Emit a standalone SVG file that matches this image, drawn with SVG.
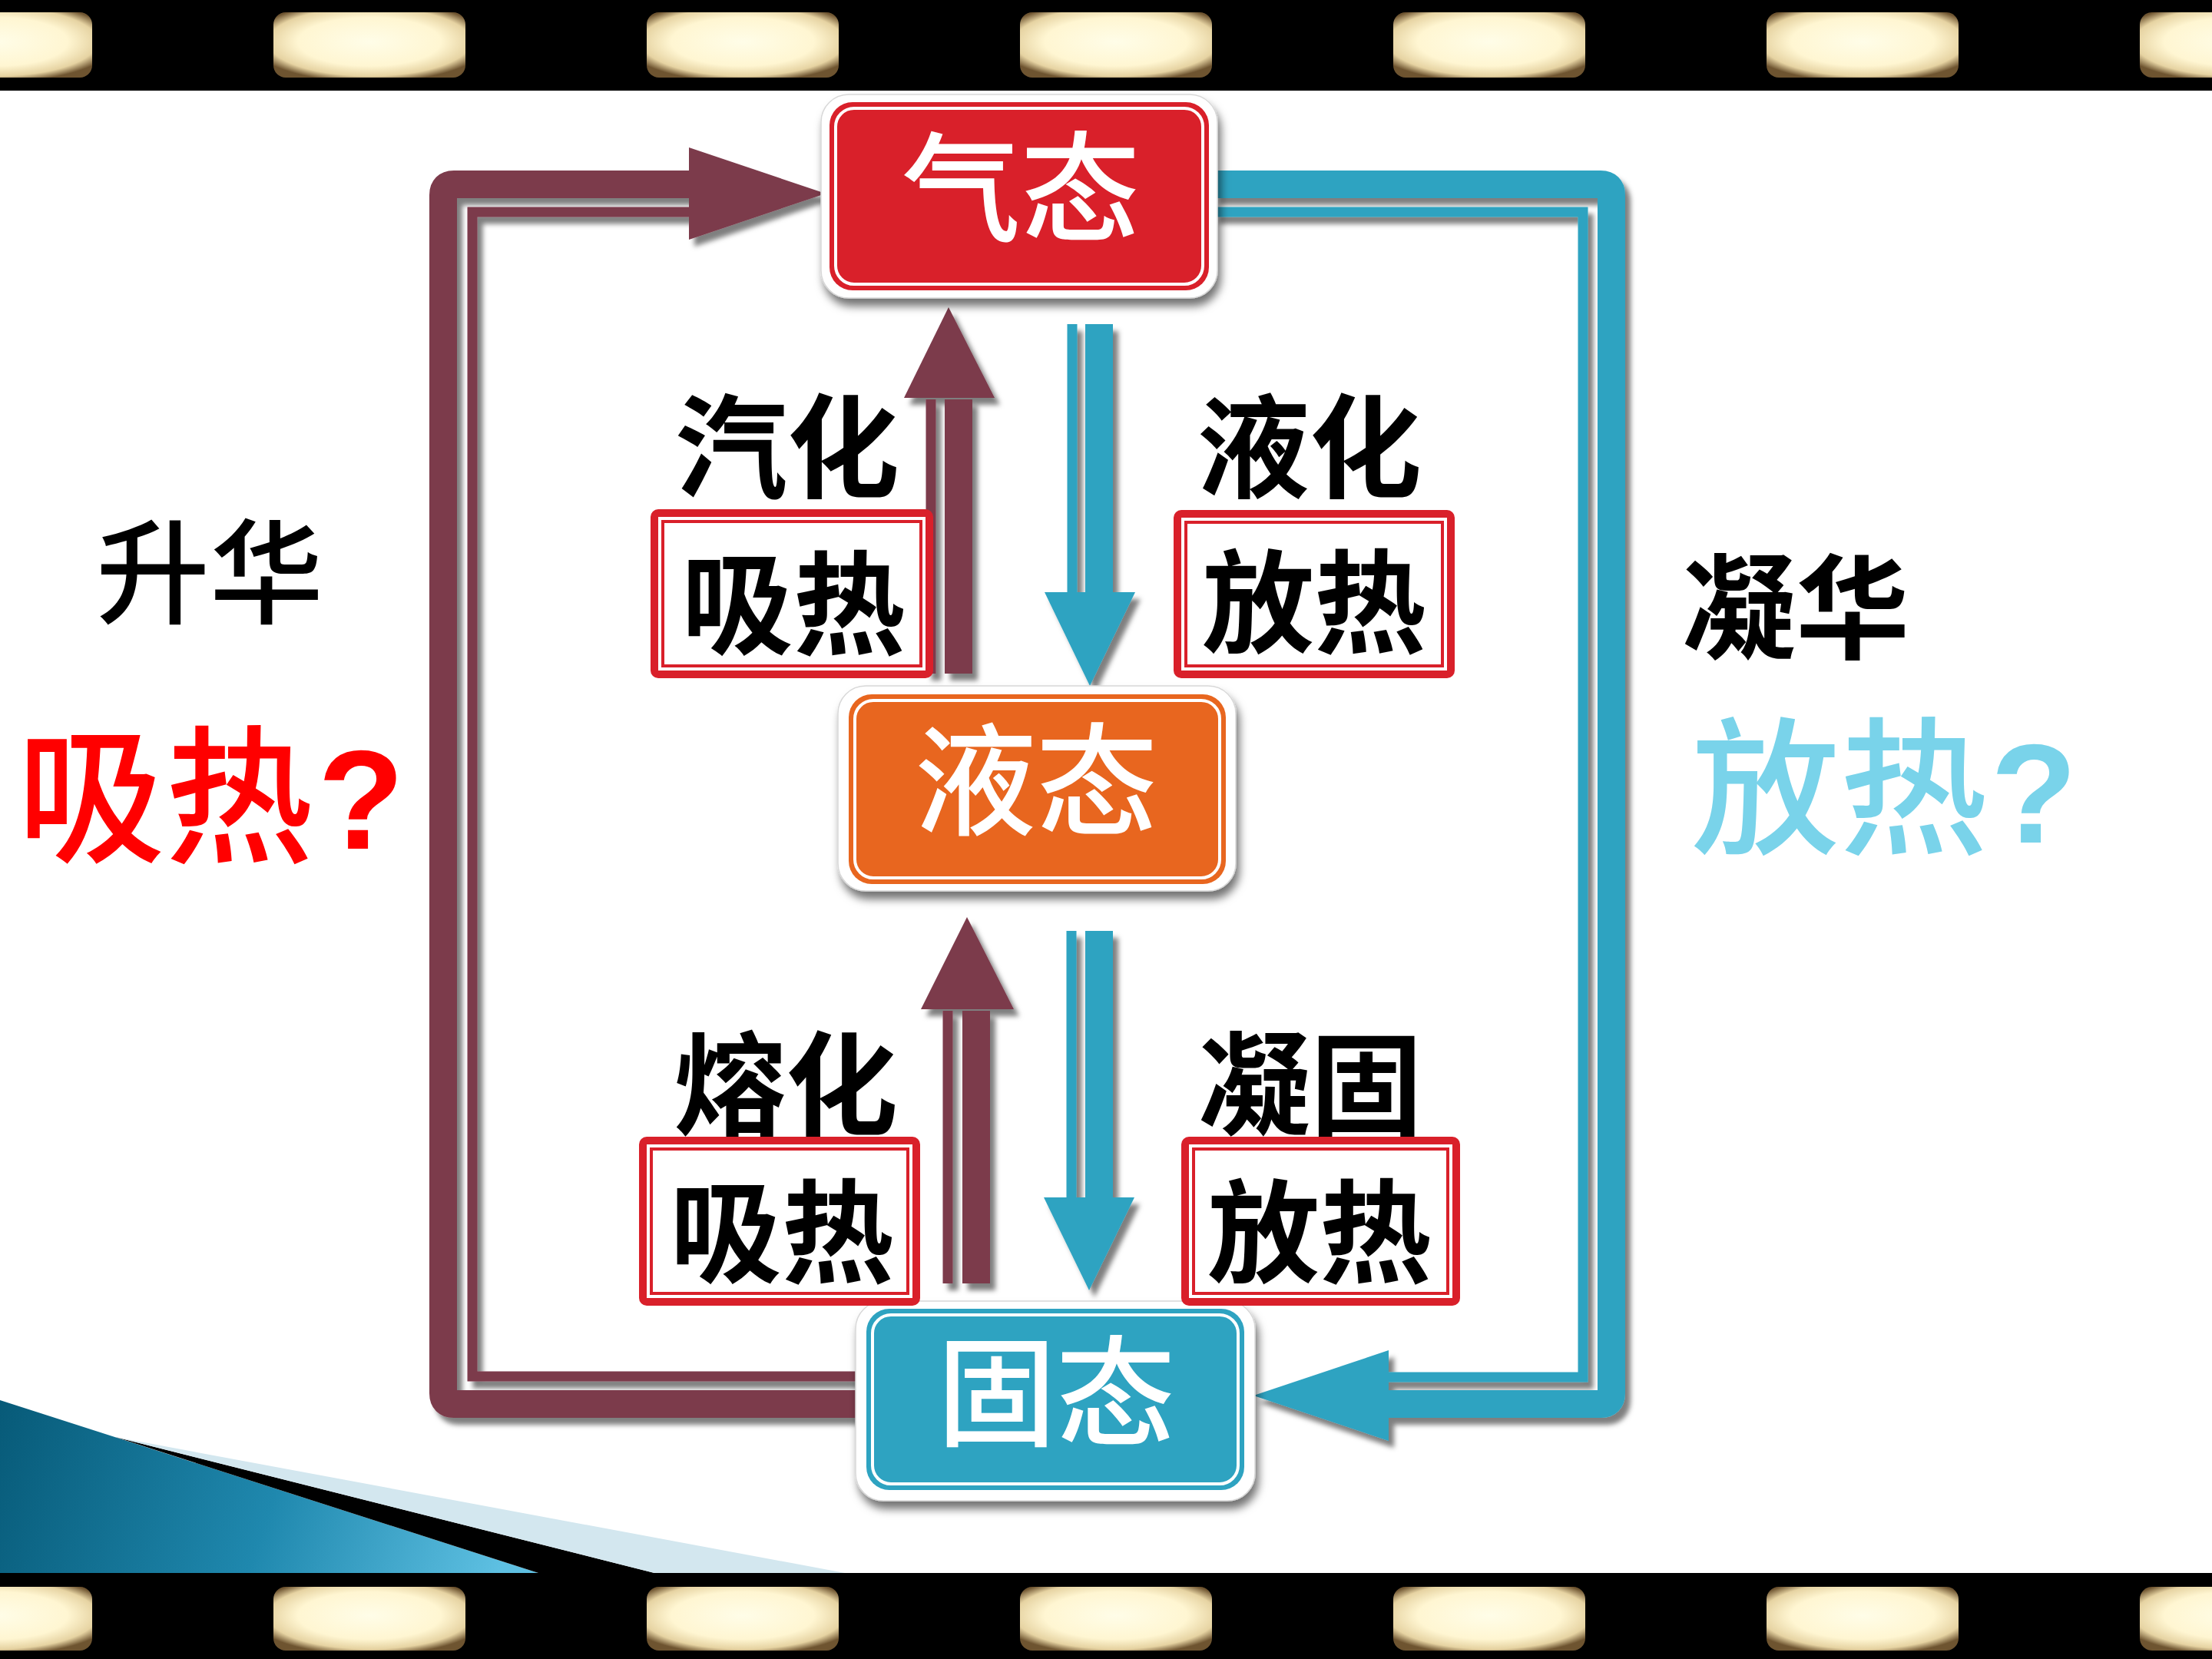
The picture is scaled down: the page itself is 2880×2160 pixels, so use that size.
<svg xmlns="http://www.w3.org/2000/svg" width="2880" height="2160" viewBox="0 0 2880 2160">
<defs>
<radialGradient id="holeG" cx="0.5" cy="0.45" r="0.62">
<stop offset="0" stop-color="#fffde8"/>
<stop offset="0.6" stop-color="#fff6d2"/>
<stop offset="0.85" stop-color="#e6d3a2"/>
<stop offset="1" stop-color="#6e5430"/>
</radialGradient>
<linearGradient id="blueG" x1="0" y1="1823" x2="650" y2="2048" gradientUnits="userSpaceOnUse">
<stop offset="0" stop-color="#075a78"/>
<stop offset="0.55" stop-color="#1f88ae"/>
<stop offset="1" stop-color="#5ec0e2"/>
</linearGradient>
<filter id="sh" filterUnits="userSpaceOnUse" x="0" y="0" width="2880" height="2160">
<feDropShadow dx="4" dy="10" stdDeviation="6" flood-color="#000" flood-opacity="0.55"/>
</filter>
<filter id="csh" filterUnits="userSpaceOnUse" x="0" y="0" width="2880" height="2160">
<feDropShadow dx="7" dy="9" stdDeviation="3" flood-color="#000" flood-opacity="0.5"/>
</filter>
<style>
.hole{fill:url(#holeG)}
.pth{fill:none;stroke:#7c3a4b;stroke-width:36;stroke-linejoin:round}
.ptn{fill:none;stroke:#7c3a4b;stroke-width:13}
.pfill{fill:#7c3a4b}
.bth{fill:none;stroke:#2ea3c1;stroke-width:36;stroke-linejoin:round}
.btn{fill:none;stroke:#2ea3c1;stroke-width:13}
.bfill{fill:#2ea3c1}
.outer{fill:#fff;stroke:#d8d8d8;stroke-width:1.5}
.inline{fill:none;stroke:#fff;stroke-width:4}
.rb{fill:#d9202a}
.rw{fill:#fff}
.rl{fill:none;stroke:#d9202a;stroke-width:4}
.t{font-family:"Noto Sans CJK SC","Noto Sans CJK JP",sans-serif;text-anchor:middle}
.node{font-size:155px;font-weight:500;fill:#fff}
.lbl{font-size:146px;font-weight:700;fill:#000}
.side{font-size:148px;fill:#000}
.big{font-size:193px;font-weight:500}
.q{font-family:"Liberation Sans",Arial,sans-serif;font-size:184px;font-weight:700;text-anchor:middle}
</style>
</defs>
<rect x="0" y="0" width="2880" height="2160" fill="#fff"/>

<g id="film-top">
<rect x="0" y="0" width="2880" height="118" fill="#000"/>
<rect class="hole" x="-130" y="16" width="250" height="85" rx="16"/>
<rect class="hole" x="356" y="16" width="250" height="85" rx="16"/>
<rect class="hole" x="842" y="16" width="250" height="85" rx="16"/>
<rect class="hole" x="1328" y="16" width="250" height="85" rx="16"/>
<rect class="hole" x="1814" y="16" width="250" height="85" rx="16"/>
<rect class="hole" x="2300" y="16" width="250" height="85" rx="16"/>
<rect class="hole" x="2786" y="16" width="250" height="85" rx="16"/>
</g>

<g id="decor-bottom-left">
<polygon points="0,1823 701,2048 0,2048" fill="url(#blueG)"/>
<polygon points="150,1871 852,2048 701,2048" fill="#000"/>
<polygon points="150,1871 1100,2048 852,2048" fill="#d3e7ef"/>
</g>

<g id="film-bottom">
<rect x="0" y="2048" width="2880" height="112" fill="#000"/>
<rect class="hole" x="-130" y="2066" width="250" height="83" rx="16"/>
<rect class="hole" x="356" y="2066" width="250" height="83" rx="16"/>
<rect class="hole" x="842" y="2066" width="250" height="83" rx="16"/>
<rect class="hole" x="1328" y="2066" width="250" height="83" rx="16"/>
<rect class="hole" x="1814" y="2066" width="250" height="83" rx="16"/>
<rect class="hole" x="2300" y="2066" width="250" height="83" rx="16"/>
<rect class="hole" x="2786" y="2066" width="250" height="83" rx="16"/>
</g>

<g id="connectors" filter="url(#csh)">
<!-- sublimation loop (left) -->
<path class="ptn" d="M1125,1792 H615 V276 H900"/>
<path class="pth" d="M1125,1828 H591 Q577,1828 577,1814 V254 Q577,240 591,240 H900"/>
<polygon class="pfill" points="897,192 1075,252 897,312"/>
<!-- deposition loop (right) -->
<path class="btn" d="M1580,276 H2061 V1793 H1805"/>
<path class="bth" d="M1580,240 H2084 Q2098,240 2098,254 V1814 Q2098,1828 2084,1828 H1805"/>
<polygon class="bfill" points="1808,1758 1632,1817 1808,1876"/>
<!-- vaporization -->
<line class="ptn" x1="1212" y1="520" x2="1212" y2="877"/>
<line class="pth" x1="1248" y1="520" x2="1248" y2="877"/>
<polygon class="pfill" points="1177,518 1235,400 1295,518"/>
<!-- liquefaction -->
<line class="btn" x1="1396" y1="422" x2="1396" y2="773"/>
<line class="bth" x1="1431" y1="422" x2="1431" y2="773"/>
<polygon class="bfill" points="1360,771 1419,893 1478,771"/>
<!-- melting -->
<line class="ptn" x1="1234" y1="1316" x2="1234" y2="1671"/>
<line class="pth" x1="1271" y1="1316" x2="1271" y2="1671"/>
<polygon class="pfill" points="1199,1314 1259,1194 1320,1314"/>
<!-- solidification -->
<line class="btn" x1="1395" y1="1212" x2="1395" y2="1561"/>
<line class="bth" x1="1431" y1="1212" x2="1431" y2="1561"/>
<polygon class="bfill" points="1359,1559 1418,1680 1477,1559"/>
</g>

<g id="node-gas">
<rect class="outer" x="1069" y="123" width="516" height="265" rx="36" filter="url(#sh)"/>
<rect x="1080" y="133" width="494" height="245" rx="30" fill="#d9202a"/>
<rect class="inline" x="1088" y="141" width="478" height="229" rx="24"/>
<text class="t node" x="1329" y="302">气态</text>
</g>

<g id="node-liquid">
<rect class="outer" x="1091" y="893" width="518" height="267" rx="36" filter="url(#sh)"/>
<rect x="1105" y="904" width="491" height="247" rx="30" fill="#e8661f"/>
<rect class="inline" x="1113" y="912" width="475" height="231" rx="24"/>
<text class="t node" style="font-size:158px" x="1349" y="1075">液态</text>
</g>

<g id="node-solid">
<rect class="outer" x="1114" y="1694" width="520" height="260" rx="36" filter="url(#sh)"/>
<rect x="1128" y="1704" width="492" height="236" rx="30" fill="#2ea3c1"/>
<rect class="inline" x="1136" y="1712" width="476" height="220" rx="24"/>
<text class="t node" x="1375" y="1870">固态</text>
</g>

<g id="label-vaporize">
<text class="t lbl" x="1025" y="636">汽化</text>
<rect class="rb" x="847" y="663" width="368" height="220" rx="10"/>
<rect class="rw" x="857" y="673" width="348" height="200"/>
<rect class="rl" x="863" y="679" width="336" height="188"/>
<text class="t lbl" x="1033" y="840">吸热</text>
</g>

<g id="label-liquefy">
<text class="t lbl" x="1705" y="636">液化</text>
<rect class="rb" x="1528" y="664" width="366" height="219" rx="10"/>
<rect class="rw" x="1538" y="674" width="346" height="199"/>
<rect class="rl" x="1544" y="680" width="334" height="187"/>
<text class="t lbl" x="1711" y="838">放热</text>
</g>

<g id="label-melt">
<text class="t lbl" x="1023" y="1466">熔化</text>
<rect class="rb" x="832" y="1480" width="366" height="220" rx="10"/>
<rect class="rw" x="842" y="1490" width="346" height="200"/>
<rect class="rl" x="848" y="1496" width="334" height="188"/>
<text class="t lbl" x="1018" y="1658">吸热</text>
</g>

<g id="label-solidify">
<text class="t lbl" x="1706" y="1466">凝固</text>
<rect class="rb" x="1538" y="1480" width="363" height="220" rx="10"/>
<rect class="rw" x="1548" y="1490" width="343" height="200"/>
<rect class="rl" x="1554" y="1496" width="331" height="188"/>
<text class="t lbl" x="1718" y="1658">放热</text>
</g>

<g id="label-sublimation">
<text class="t side" style="font-weight:500" x="273" y="800">升华</text>
<text class="t big" fill="#ff0000" x="215" y="1108">吸热</text>
<text class="q" fill="#ff0000" x="470" y="1105">?</text>
</g>

<g id="label-deposition">
<text class="t side" style="font-weight:700" x="2338" y="846">凝华</text>
<text class="t big" fill="#79d3ea" x="2395" y="1097">放热</text>
<text class="q" fill="#79d3ea" x="2648" y="1097">?</text>
</g>
</svg>
